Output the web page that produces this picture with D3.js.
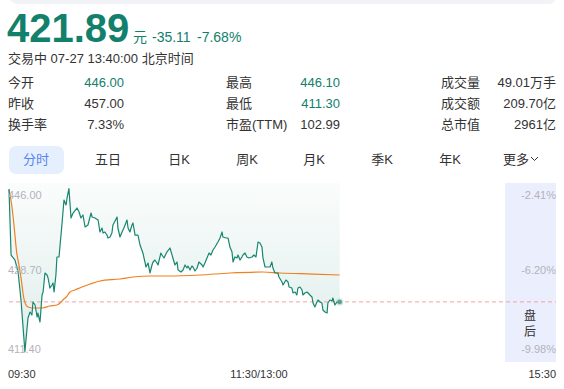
<!DOCTYPE html>
<html><head><meta charset="utf-8">
<script src="https://cdn.jsdelivr.net/npm/d3@7/dist/d3.min.js"></script>
<style>
html,body{margin:0;padding:0;background:#fff;}
svg{display:block;font-family:"Liberation Sans",Arial,"Noto Sans CJK SC",sans-serif;}
</style></head>
<body><svg id="c" width="564" height="389"></svg>
<script>
// ---- data ----
const lastPrice = 421.89, change = "-35.11", changePct = "-7.68%";
const statusText = "交易中 07-27 13:40:00 北京时间";
const statLabels = [["今开","昨收","换手率"],["最高","最低","市盈(TTM)"],["成交量","成交额","总市值"]];
const statValues = [["446.00","457.00","7.33%"],["446.10","411.30","102.99"],["49.01万手","209.70亿","2961亿"]];
const statGreen = [[true,false,false],[true,true,false],[false,false,false]];
const tabs = ["分时","五日","日K","周K","月K","季K","年K","更多"];
const yTicks = [446.00, 428.70, 411.40];
const pctTicks = ["-2.41%","-6.20%","-9.98%"];
const xTickLabels = ["09:30","11:30/13:00","15:30"];
// minutes since 09:30 (trading minutes), price
const priceMin = [0,1.0,2.9,4.4,5.8,7.7,9.2,10.2,11.1,11.6,12.6,13.6,14.0,15.0,16.0,16.5,17.4,18.4,18.9,19.8,20.8,21.3,21.8,22.7,23.2,24.2,25.6,26.6,27.6,28.1,29.0,30.0,31.0,32.9,33.9,34.8,35.8,36.8,38.2,39.7,40.2,41.6,43.1,44.0,45.0,45.5,46.4,47.4,47.9,48.9,49.8,50.3,52.3,52.7,53.7,54.7,55.6,57.1,57.6,58.5,59.5,60.0,61.0,62.4,63.4,64.8,66.3,67.3,68.2,69.2,69.7,70.6,71.6,72.1,73.5,74.0,75.0,76.4,77.9,79.3,80.3,81.3,81.8,83.2,84.2,85.2,86.1,86.6,87.6,88.5,89.0,90.0,91.0,91.9,93.4,93.9,94.8,95.8,96.8,97.7,98.7,99.7,101.1,102.1,103.1,103.5,105.0,106.0,106.9,107.9,108.4,109.3,110.3,110.8,111.8,112.7,113.2,114.2,115.1,116.1,117.6,118.5,119.5,120.5,121.4,122.4,122.9,123.9,125.3,126.3,127.2,127.7,128.7,130.1,130.6,132.1,132.6,134.0,135.0,135.5,136.9,137.4,138.4,139.3,139.8,140.8,141.8,142.2,143.2,144.2,144.7,145.6,146.6,147.1,148.0,149.0,149.5,150.5,151.4,151.9,152.9,153.9,154.3,155.3,156.3,156.7,157.7,158.7,160.0];
const priceVal = [446.00,431.90,430.83,428.27,422.30,411.30,418.45,419.73,419.09,421.86,421.22,418.66,419.51,417.59,423.36,424.00,428.06,427.63,426.99,424.85,425.49,425.92,424.00,427.63,431.48,431.48,438.31,443.65,442.58,444.08,446.10,439.81,440.87,441.94,441.09,439.81,440.45,437.88,438.31,440.87,440.02,439.81,439.38,436.82,437.67,436.60,436.82,436.17,435.53,435.75,436.60,438.31,440.02,437.67,435.75,436.82,437.67,439.38,437.67,436.82,438.31,438.74,436.17,436.17,434.04,432.33,429.34,430.19,428.06,429.77,430.41,430.83,430.19,429.77,432.33,431.90,431.26,432.54,433.40,431.26,429.77,430.41,428.70,428.27,428.70,429.77,429.13,429.55,428.70,429.55,429.34,428.48,429.13,430.41,429.77,429.34,430.19,431.26,432.33,431.90,432.97,433.61,434.68,435.53,436.82,435.75,435.53,435.53,433.61,432.54,430.41,431.48,431.26,431.90,430.83,431.48,431.90,432.33,431.48,431.26,431.48,431.90,431.48,434.68,434.47,433.61,431.26,429.34,429.34,429.34,430.41,429.13,428.06,428.06,427.20,426.14,425.49,426.56,426.14,425.07,424.85,423.79,424.00,423.36,424.85,425.07,424.43,423.36,423.79,424.00,423.79,423.36,422.93,421.65,420.80,421.86,422.29,421.86,421.65,420.15,419.73,419.51,421.65,422.29,422.08,422.72,421.22,421.86,421.89];
const avgMin = [0,1.3,2.4,3.7,5.0,6.1,6.9,8.2,9.2,11.6,16.0,19.8,23.2,24.7,26.1,28.1,29.5,31.9,35.3,39.2,44.0,53.7,60.0,68.2,76.4,92.4,106.9,122.9,131.1,147.1,160.0];
const avgVal = [445.80,442.58,438.31,432.54,429.34,426.14,423.36,421.22,420.80,420.58,420.58,421.01,421.22,421.65,422.29,423.14,424.00,424.43,425.07,425.71,426.35,426.78,427.20,427.42,427.42,427.63,428.06,428.27,428.06,427.84,427.63];

// ---- drawing ----
const svg = d3.select("#c");
const teal = "#12806b", dark = "#333";

// top panel edge
svg.append("rect").attr("x",10).attr("y",-12).attr("width",546).attr("height",16).attr("rx",7).attr("fill","#f2f3f7");

// big price
const hdr = svg.append("text").attr("x",7).attr("y",42);
hdr.append("tspan").attr("font-size",40).attr("font-weight","bold").attr("fill",teal).text(lastPrice.toFixed(2));
svg.append("text").attr("x",133).attr("y",42).attr("font-size",14).attr("fill",teal).attr("font-family","Noto Sans CJK SC").text("元");
svg.append("text").attr("x",152).attr("y",42).attr("font-size",14).attr("fill",teal).text(change);
svg.append("text").attr("x",197).attr("y",42).attr("font-size",14).attr("fill",teal).text(changePct);
svg.append("text").attr("x",8).attr("y",58).attr("dy","0.35em").attr("font-size",13).attr("fill",dark).text(statusText);

// stats table
const labelX = [8,226,441], valueX = [124,340,556], rowY = [82,103,124];
statLabels.forEach((col,ci)=>col.forEach((lab,ri)=>{
  svg.append("text").attr("x",labelX[ci]).attr("y",rowY[ri]).attr("dy","0.35em").attr("font-size",13).attr("fill",dark).text(lab);
  svg.append("text").attr("x",valueX[ci]).attr("y",rowY[ri]).attr("dy","0.35em").attr("text-anchor","end").attr("font-size",13)
    .attr("fill",statGreen[ci][ri]?teal:dark).text(statValues[ci][ri]);
}));

// tabs
const tabX = [36,108,179,247,314,382,450,516];
svg.append("rect").attr("x",9).attr("y",146).attr("width",55).attr("height",28).attr("rx",7).attr("fill","#e6effe");
tabs.forEach((t,i)=>{
  svg.append("text").attr("x",tabX[i]).attr("y",159).attr("dy","0.35em").attr("text-anchor","middle").attr("font-size",13)
    .attr("fill",i===0?"#5585ee":dark).text(t);
});
svg.append("path").attr("d","M531,157 l3.5,3.5 l3.5,-3.5").attr("fill","none").attr("stroke",dark).attr("stroke-width",1);

// chart scales
const x = d3.scaleLinear().domain([0,240]).range([9,505]);
const y = d3.scaleLinear().domain([411.4,446]).range([351,189]);
const plotTop = 183, plotBottom = 362;

// after-hours panel
svg.append("rect").attr("x",505).attr("y",plotTop).attr("width",51).attr("height",plotBottom-plotTop).attr("fill","#ebeefd");

// gradient area
const defs = svg.append("defs");
const g = defs.append("linearGradient").attr("id","ag").attr("gradientUnits","userSpaceOnUse")
  .attr("x1",0).attr("x2",0).attr("y1",plotTop).attr("y2",351);
g.append("stop").attr("offset",0).attr("stop-color","#17866f").attr("stop-opacity",0.02);
g.append("stop").attr("offset",1).attr("stop-color","#17866f").attr("stop-opacity",0.14);

const pts = priceMin.map((m,i)=>[m,priceVal[i]]);
svg.append("path").datum(pts).attr("fill","url(#ag)")
  .attr("d",d3.area().x(d=>x(d[0])).y0(plotTop).y1(d=>y(d[1])));

// current price dashed line
svg.append("line").attr("x1",9).attr("x2",556).attr("y1",y(lastPrice)).attr("y2",y(lastPrice))
  .attr("stroke","#f0a3a3").attr("stroke-width",1).attr("stroke-dasharray","4,3");

// avg line
const avgPts = avgMin.map((m,i)=>[m,avgVal[i]]);
svg.append("path").datum(avgPts).attr("fill","none").attr("stroke","#f07f1f").attr("stroke-width",1.2)
  .attr("d",d3.line().x(d=>x(d[0])).y(d=>y(d[1])).curve(d3.curveMonotoneX));

// price line
svg.append("path").datum(pts).attr("fill","none").attr("stroke","#17866f").attr("stroke-width",1.2).attr("stroke-linejoin","round")
  .attr("d",d3.line().x(d=>x(d[0])).y(d=>y(d[1])));

// current dot
const last = pts[pts.length-1];
svg.append("circle").attr("cx",x(last[0])).attr("cy",y(last[1])).attr("r",3.5).attr("fill","#17866f").attr("opacity",0.25);
svg.append("circle").attr("cx",x(last[0])).attr("cy",y(last[1])).attr("r",2.2).attr("fill","#5c9c8c");

// y labels
const yLabY = [195,270,349];
yTicks.forEach((t,i)=>{
  svg.append("text").attr("x",8).attr("y",yLabY[i]).attr("dy","0.35em").attr("font-size",11).attr("fill","#b3b3bb").text(t.toFixed(2));
  svg.append("text").attr("x",556).attr("y",yLabY[i]).attr("dy","0.35em").attr("text-anchor","end").attr("font-size",11).attr("fill","#b3b3bb").text(pctTicks[i]);
});

// 盘后
svg.append("text").attr("x",530).attr("y",316).attr("dy","0.35em").attr("text-anchor","middle").attr("font-size",12).attr("fill",dark).text("盘");
svg.append("text").attr("x",530).attr("y",332).attr("dy","0.35em").attr("text-anchor","middle").attr("font-size",12).attr("fill",dark).text("后");

// x labels
const xl = [[8,"start"],[x(120)+2,"middle"],[556,"end"]];
xTickLabels.forEach((t,i)=>{
  svg.append("text").attr("x",xl[i][0]).attr("y",374).attr("dy","0.35em").attr("text-anchor",xl[i][1]).attr("font-size",11).attr("fill",dark).text(t);
});
</script></body></html>
